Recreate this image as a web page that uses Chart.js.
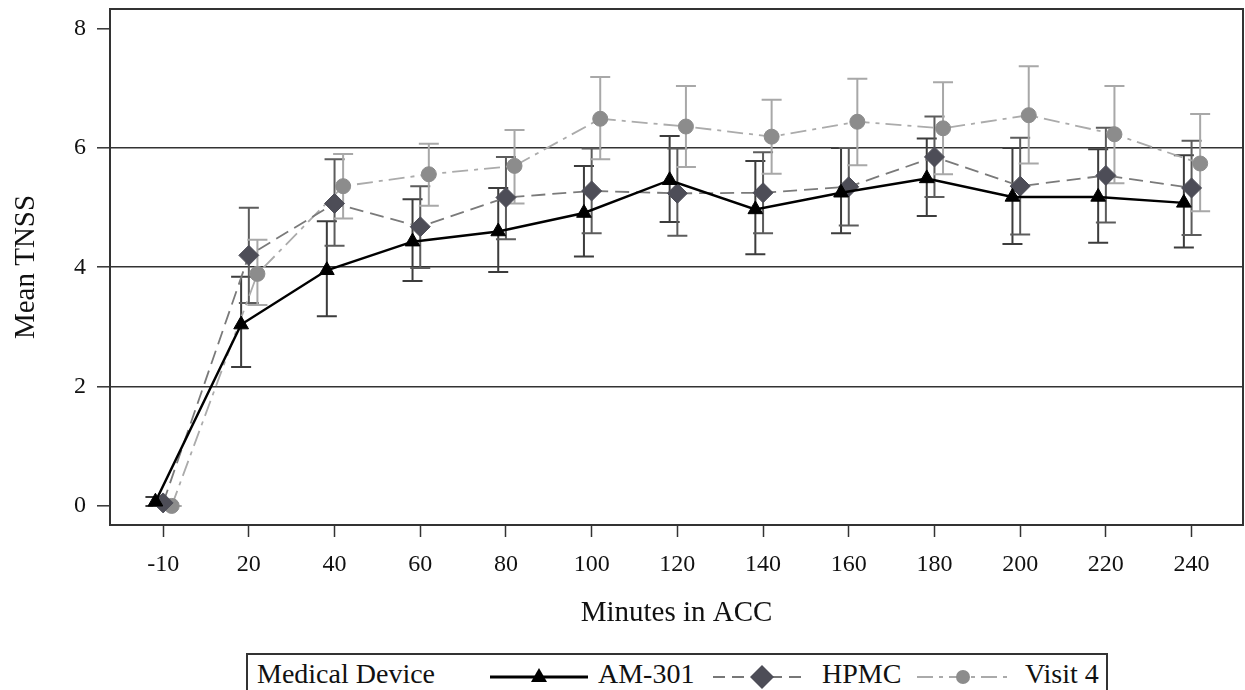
<!DOCTYPE html>
<html>
<head>
<meta charset="utf-8">
<title>Mean TNSS by minutes in ACC</title>
<script src="https://cdn.jsdelivr.net/npm/chart.js@4.4.1/dist/chart.umd.min.js"></script>
<style>
  html, body { margin: 0; padding: 0; background: #fff; overflow: hidden; }
  #wrap { position: relative; width: 1245px; height: 690px; }
  #chart { position: absolute; left: 0; top: 0; }
  #legend { position: absolute; left: 0; top: 0; pointer-events: none; }
  #legend text { font-family: 'Liberation Serif', 'DejaVu Serif', serif; font-size: 28px; fill: #111; }
</style>
</head>
<body>
<div id="wrap">
  <canvas id="chart" width="1245" height="690"></canvas>
  <svg id="legend" width="1245" height="690">
    <rect x="247" y="654" width="860" height="60" fill="#fff" stroke="#333" stroke-width="2"/>
    <text x="257" y="683">Medical Device</text>
    <line x1="490" y1="677" x2="588" y2="677" stroke="#000" stroke-width="3"/>
    <polygon points="539,668 547,682 531,682" fill="#000"/>
    <text x="598" y="683">AM-301</text>
    <line x1="713" y1="677" x2="808" y2="677" stroke="#777" stroke-width="2" stroke-dasharray="12 7"/>
    <polygon points="762,665 774,677 762,689 750,677" fill="#4d4d57"/>
    <text x="822" y="683">HPMC</text>
    <line x1="917" y1="677" x2="1012" y2="677" stroke="#aaa" stroke-width="2" stroke-dasharray="16 6 4 6"/>
    <circle cx="963" cy="677" r="7" fill="#8c8c8c"/>
    <text x="1025" y="683">Visit 4</text>
  </svg>
</div>
<script>
// time points (minutes in ACC)
const minutes = ['-10', '20', '40', '60', '80', '100', '120', '140', '160', '180', '200', '220', '240'];
const yTicks = [0, 2, 4, 6, 8];

// AM-301
const am301Mean = [0.07, 3.04, 3.95, 4.43, 4.60, 4.91, 5.46, 4.97, 5.25, 5.49, 5.18, 5.18, 5.08];
const am301Hi   = [0.15, 3.84, 4.77, 5.14, 5.33, 5.70, 6.20, 5.78, 6.00, 6.16, 6.00, 5.98, 5.88];
const am301Lo   = [0.00, 2.33, 3.18, 3.77, 3.92, 4.18, 4.76, 4.22, 4.57, 4.86, 4.39, 4.41, 4.33];

// HPMC
const hpmcMean = [0.05, 4.20, 5.07, 4.68, 5.17, 5.28, 5.24, 5.25, 5.35, 5.85, 5.36, 5.54, 5.33];
const hpmcHi   = [0.10, 5.00, 5.81, 5.36, 5.85, 5.99, 5.99, 5.93, 6.00, 6.53, 6.17, 6.34, 6.12];
const hpmcLo   = [0.00, 3.40, 4.36, 3.99, 4.47, 4.57, 4.53, 4.57, 4.70, 5.18, 4.55, 4.75, 4.54];

// Visit 4
const visit4Mean = [0.00, 3.89, 5.36, 5.56, 5.70, 6.49, 6.36, 6.19, 6.44, 6.33, 6.55, 6.23, 5.74];
const visit4Hi   = [0.00, 4.46, 5.90, 6.07, 6.30, 7.19, 7.04, 6.81, 7.16, 7.10, 7.37, 7.04, 6.57];
const visit4Lo   = [0.00, 3.37, 4.82, 5.03, 5.07, 5.81, 5.68, 5.57, 5.71, 5.56, 5.74, 5.41, 4.94];

const serif = "'Liberation Serif', 'DejaVu Serif', serif";

// small horizontal dodge so the three series don't sit on top of each other
function points(values, dodge) {
  return values.map((v, i) => ({x: i + dodge, y: v}));
}

// vertical error bars with caps, drawn under the lines and markers
const errorBars = {
  id: 'errorBars',
  beforeDatasetsDraw(chart) {
    const ctx = chart.ctx;
    const yScale = chart.scales.y;
    chart.data.datasets.forEach((ds, d) => {
      const meta = chart.getDatasetMeta(d);
      ctx.save();
      ctx.strokeStyle = ds.errColor;
      ctx.lineWidth = 2;
      meta.data.forEach((pt, i) => {
        const top = yScale.getPixelForValue(ds.errHi[i]);
        const bottom = yScale.getPixelForValue(ds.errLo[i]);
        ctx.beginPath();
        ctx.moveTo(pt.x, top);
        ctx.lineTo(pt.x, bottom);
        ctx.moveTo(pt.x - 10, top);
        ctx.lineTo(pt.x + 10, top);
        ctx.moveTo(pt.x - 10, bottom);
        ctx.lineTo(pt.x + 10, bottom);
        ctx.stroke();
      });
      ctx.restore();
    });
  }
};

// full frame round the plot area
const frame = {
  id: 'frame',
  beforeDatasetsDraw(chart) {
    const {ctx, chartArea: a} = chart;
    ctx.save();
    ctx.strokeStyle = '#333';
    ctx.lineWidth = 2;
    ctx.strokeRect(a.left, a.top, a.right - a.left, a.bottom - a.top);
    ctx.restore();
  }
};

new Chart(document.getElementById('chart'), {
  type: 'line',
  data: {
    datasets: [
      {
        label: 'AM-301',
        data: points(am301Mean, -0.09),
        errHi: am301Hi, errLo: am301Lo, errColor: '#3c3c3c',
        borderColor: '#000',
        borderWidth: 2.5,
        pointStyle: 'triangle',
        pointRadius: 8.5,
        pointBackgroundColor: '#000',
        pointBorderColor: '#000',
        pointBorderWidth: 1
      },
      {
        label: 'HPMC',
        data: points(hpmcMean, 0),
        errHi: hpmcHi, errLo: hpmcLo, errColor: '#5c5c5c',
        borderColor: '#7a7a7a',
        borderWidth: 1.8,
        borderDash: [14, 7],
        pointStyle: 'rectRot',
        pointRadius: 10,
        pointBackgroundColor: '#4d4d57',
        pointBorderColor: '#4d4d57',
        pointBorderWidth: 1
      },
      {
        label: 'Visit 4',
        data: points(visit4Mean, 0.1),
        errHi: visit4Hi, errLo: visit4Lo, errColor: '#a8a8a8',
        borderColor: '#ababab',
        borderWidth: 1.8,
        borderDash: [16, 6, 4, 6],
        pointStyle: 'circle',
        pointRadius: 7.5,
        pointBackgroundColor: '#8c8c8c',
        pointBorderColor: '#8c8c8c',
        pointBorderWidth: 1
      }
    ]
  },
  options: {
    responsive: false,
    animation: false,
    layout: {
      autoPadding: false,
      padding: {left: 0, right: 2, top: 9, bottom: 0}
    },
    plugins: {
      legend: {display: false},
      tooltip: {enabled: false}
    },
    scales: {
      x: {
        type: 'linear',
        min: -0.62,
        max: 12.6,
        afterBuildTicks: (scale) => {
          scale.ticks = minutes.map((m, i) => ({value: i}));
        },
        afterFit: (scale) => {
          scale.height = 165;
          scale.paddingLeft = 0;
          scale.paddingRight = 0;
        },
        border: {display: false},
        grid: {
          drawOnChartArea: false,
          tickLength: 12,
          tickColor: '#333',
          tickWidth: 1.5
        },
        ticks: {
          padding: 13,
          maxRotation: 0,
          autoSkip: false,
          color: '#111',
          font: {family: serif, size: 24},
          callback: (value) => minutes[Math.round(value)]
        },
        title: {
          display: true,
          text: 'Minutes in ACC',
          color: '#111',
          font: {family: serif, size: 29},
          padding: {top: 0, bottom: 59}
        }
      },
      y: {
        min: -0.32,
        max: 8.33,
        afterBuildTicks: (scale) => {
          scale.ticks = yTicks.map(v => ({value: v}));
        },
        afterFit: (scale) => {
          scale.width = 110;
          scale.paddingTop = 0;
          scale.paddingBottom = 0;
        },
        border: {display: false},
        grid: {
          color: (c) => (c.tick && c.tick.value > 0 && c.tick.value < 8) ? '#333' : 'rgba(0,0,0,0)',
          lineWidth: 1.6,
          tickLength: 13,
          tickColor: '#333',
          tickWidth: 1.5
        },
        ticks: {
          padding: 11,
          color: '#111',
          font: {family: serif, size: 24}
        },
        title: {
          display: true,
          text: 'Mean TNSS',
          color: '#111',
          font: {family: serif, size: 29},
          padding: {top: 9, bottom: 0}
        }
      }
    }
  },
  plugins: [errorBars, frame]
});
</script>
</body>
</html>
